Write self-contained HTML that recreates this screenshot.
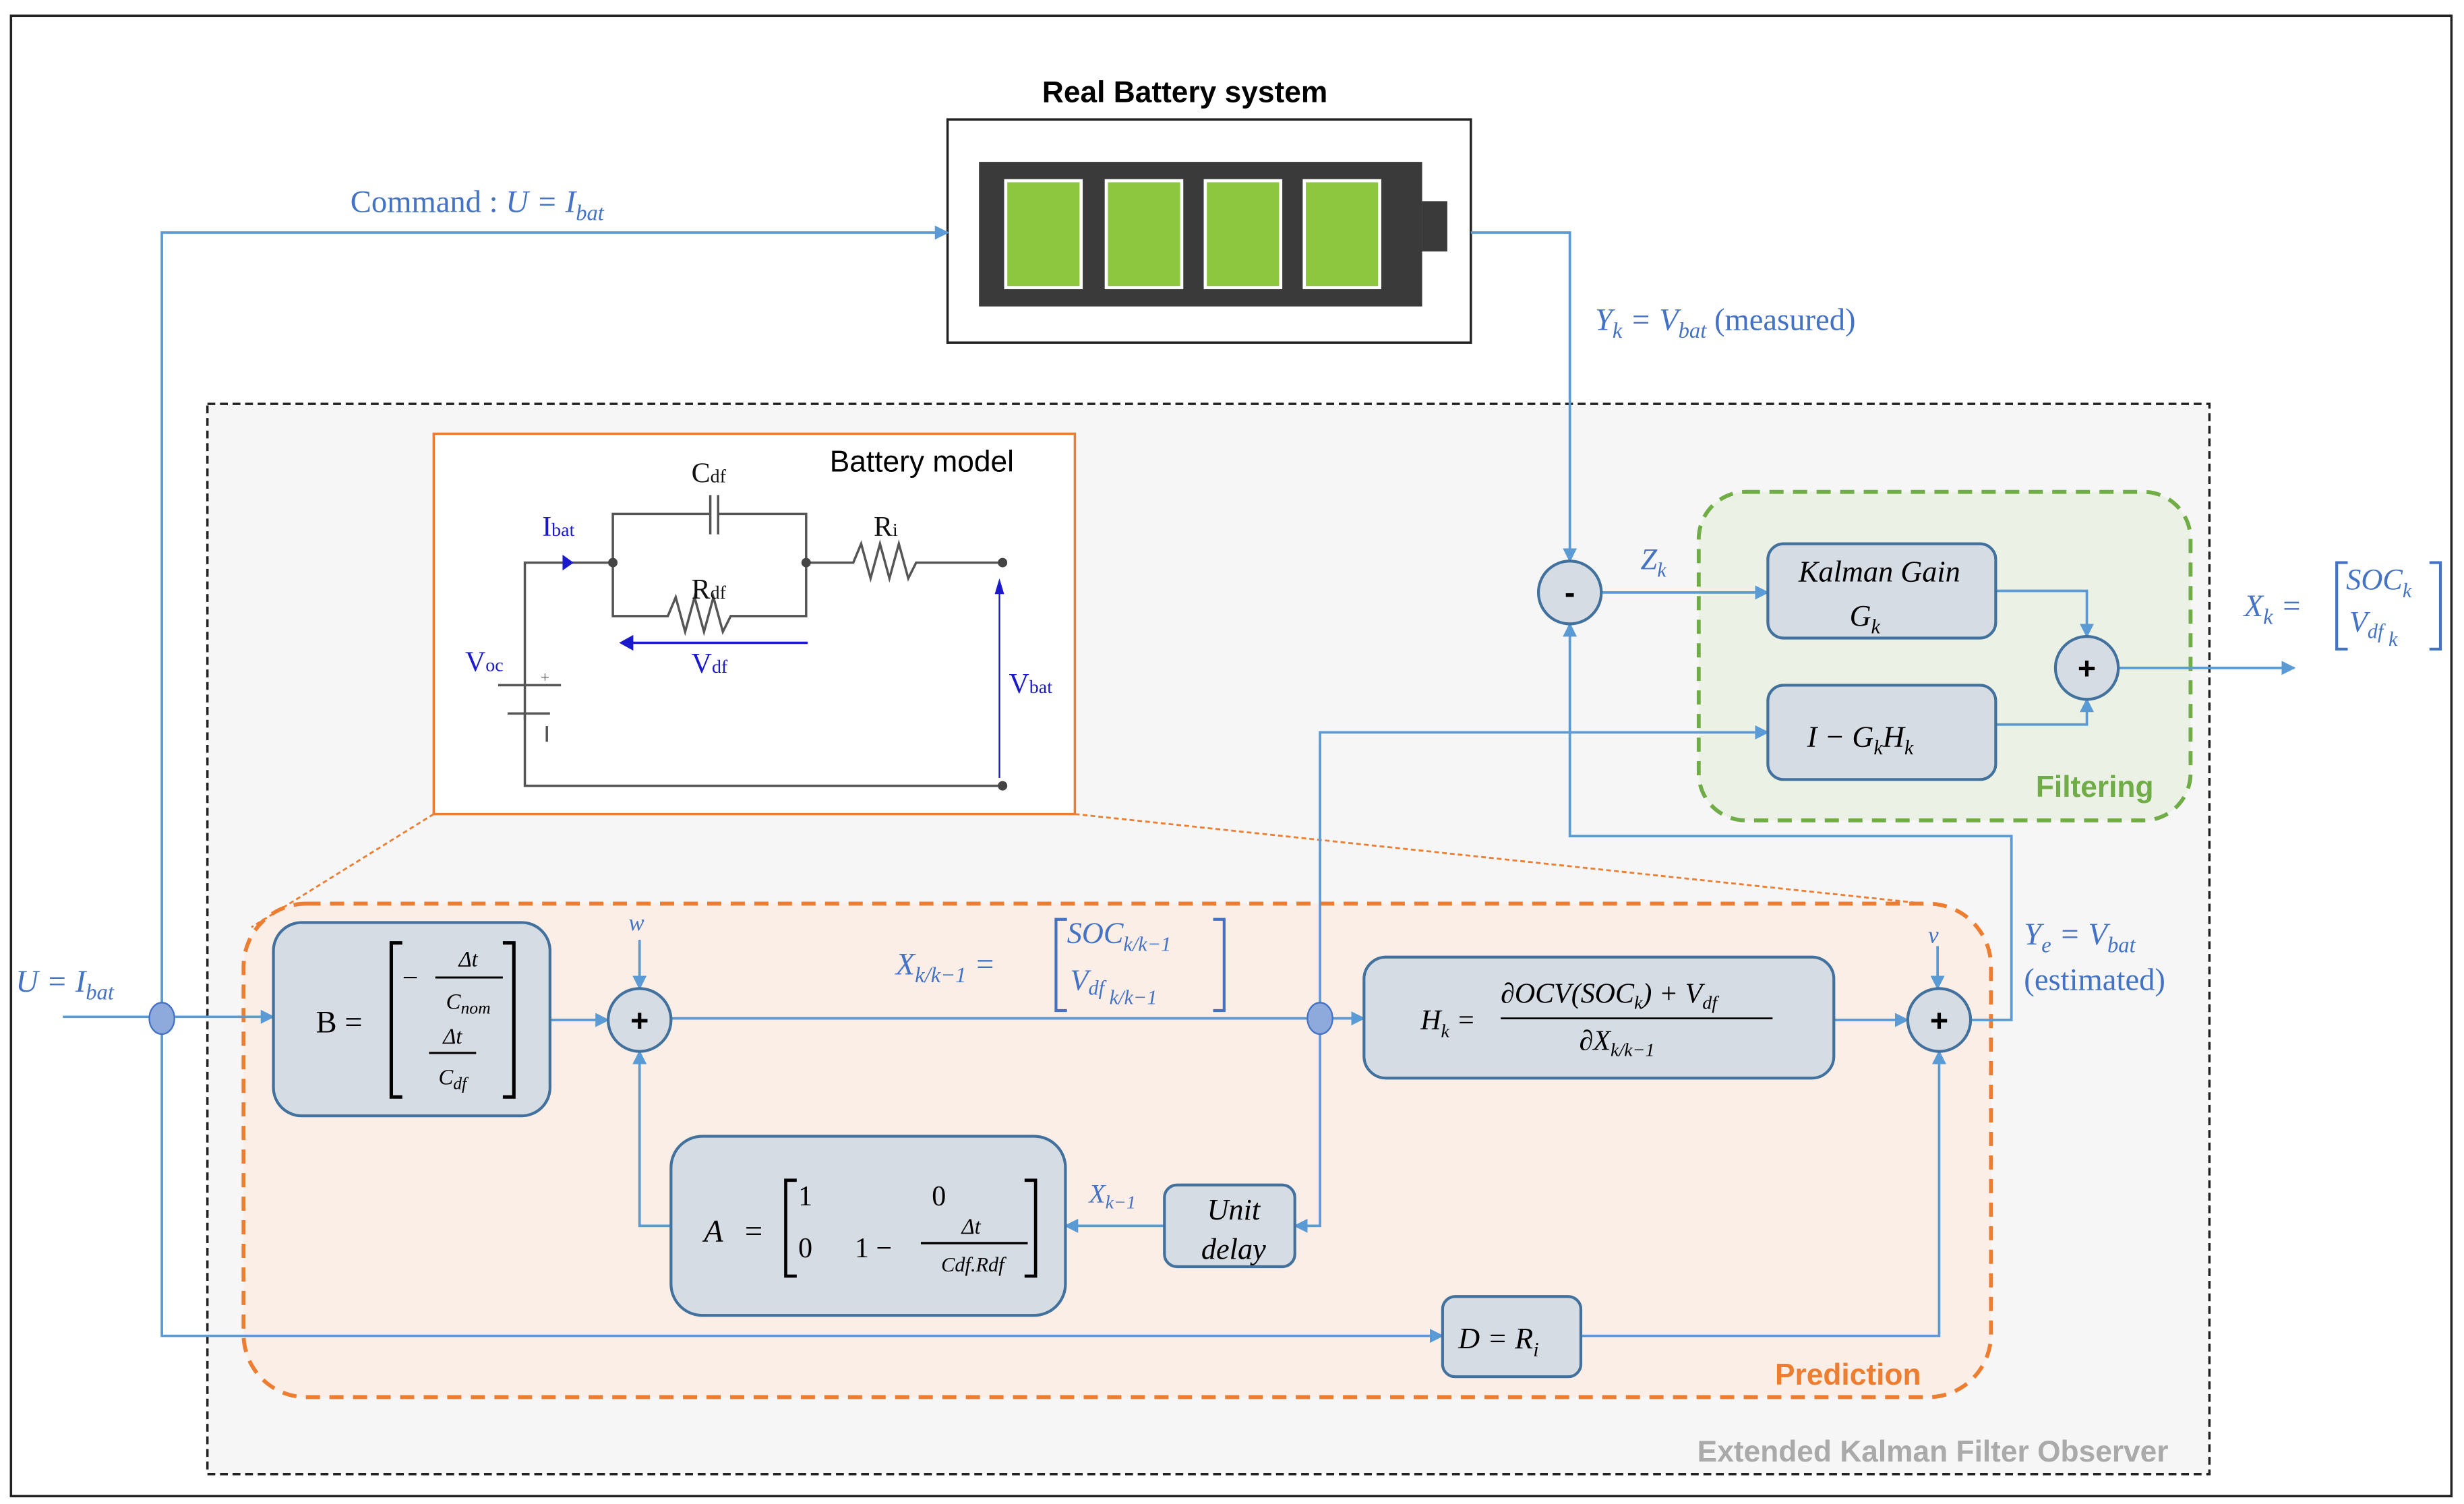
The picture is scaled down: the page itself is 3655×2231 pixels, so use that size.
<!DOCTYPE html>
<html><head><meta charset="utf-8"><style>
html,body{margin:0;padding:0;background:#fff;}
svg{display:block;}
.m{font-family:"Liberation Serif",serif;font-style:italic;}
.s{font-family:"Liberation Sans",sans-serif;}
</style></head><body>
<svg width="3655" height="2231" viewBox="0 0 1568 957" preserveAspectRatio="none" xmlns="http://www.w3.org/2000/svg">
<defs>
<marker id="a" viewBox="0 0 10 10" refX="9" refY="5" markerWidth="9" markerHeight="9" markerUnits="userSpaceOnUse" orient="auto"><path d="M0,0L10,5L0,10z" fill="#5b9bd5"/></marker>
</defs>
<rect x="0" y="0" width="1568" height="957" fill="#fff"/>
<rect x="7" y="10" width="1553" height="942" fill="#fff" stroke="#222" stroke-width="1.5"/>
<!-- EKF -->
<rect x="132" y="257" width="1274" height="681" fill="#f6f6f6" stroke="#222" stroke-width="1.5" stroke-dasharray="5,3"/>
<text x="1230" y="930" class="s" font-size="19" font-weight="bold" fill="#aaa" text-anchor="middle">Extended Kalman Filter Observer</text>
<!-- Prediction -->
<rect x="155" y="575" width="1112" height="314" rx="40" fill="#fbeee6" stroke="#ed7d31" stroke-width="2.5" stroke-dasharray="9,6"/>
<text x="1176" y="881" class="s" font-size="19" font-weight="bold" fill="#ed7d31" text-anchor="middle">Prediction</text>
<!-- Filtering -->
<rect x="1081" y="313" width="313" height="209" rx="30" fill="#ebf1e4" stroke="#70ad47" stroke-width="2.5" stroke-dasharray="9,6"/>
<text x="1333" y="507" class="s" font-size="19" font-weight="bold" fill="#70ad47" text-anchor="middle">Filtering</text>
<!-- orange dotted -->
<line x1="276" y1="518" x2="160" y2="590" stroke="#ed7d31" stroke-width="1.2" stroke-dasharray="3,2"/>
<line x1="684" y1="518" x2="1225" y2="575" stroke="#ed7d31" stroke-width="1.2" stroke-dasharray="3,2"/>
<!-- Battery model -->
<rect x="276" y="276" width="408" height="242" fill="#fff" stroke="#ed7d31" stroke-width="1.5"/>
<text x="528" y="300" class="s" font-size="19" fill="#000">Battery model</text>
<g stroke="#555" stroke-width="1.5" fill="none">
<polyline points="334,458 334,358 390,358"/>
<polyline points="390,358 390,327 452,327"/><polyline points="457,327 513,327 513,358"/>
<line x1="452" y1="315" x2="452" y2="340"/><line x1="457" y1="315" x2="457" y2="340"/>
<polyline points="390,358 390,392 425,392 430,380 436,402 442,380 448,402 454,380 460,402 465,392 513,392 513,358"/>
<polyline points="513,358 543,358 548,346 554,368 560,346 566,368 572,346 578,368 583,358 638,358"/>
<line x1="317" y1="436" x2="357" y2="436"/><line x1="323" y1="454" x2="350" y2="454"/>
<polyline points="334,454 334,500 638,500"/>
<line x1="348" y1="462" x2="348" y2="472"/>
</g>
<text x="344" y="434" font-size="10" fill="#555">+</text>
<circle cx="390" cy="358" r="3" fill="#444"/><circle cx="513" cy="358" r="3" fill="#444"/><circle cx="638" cy="358" r="3" fill="#444"/><circle cx="638" cy="500" r="3" fill="#444"/>
<path d="M358,353 L365,358 L358,363z" fill="#1a1acc"/>
<line x1="400" y1="409" x2="514" y2="409" stroke="#1a1acc" stroke-width="1.5"/><path d="M394,409 L403,404 L403,414z" fill="#1a1acc"/>
<line x1="636" y1="372" x2="636" y2="495" stroke="#1a1acc" stroke-width="1"/><path d="M636,368 L633,378 L639,378z" fill="#1a1acc"/>
<g font-family="Liberation Serif,serif" font-size="18">
<text x="440" y="307" fill="#111">C<tspan font-size="12">df</tspan></text>
<text x="440" y="381" fill="#111">R<tspan font-size="12">df</tspan></text>
<text x="556" y="341" fill="#111">R<tspan font-size="12">i</tspan></text>
<text x="345" y="341" fill="#1a1acc">I<tspan font-size="12">bat</tspan></text>
<text x="440" y="428" fill="#1a1acc">V<tspan font-size="12">df</tspan></text>
<text x="296" y="427" fill="#1a1acc">V<tspan font-size="12">oc</tspan></text>
<text x="642" y="441" fill="#1a1acc">V<tspan font-size="12">bat</tspan></text>
</g>
<!-- Real battery -->
<text x="754" y="65" class="s" font-size="19" font-weight="bold" text-anchor="middle">Real Battery system</text>
<rect x="603" y="76" width="333" height="142" fill="#fff" stroke="#222" stroke-width="1.5"/>
<rect x="623" y="103" width="282" height="92" fill="#3a3a3a"/>
<rect x="905" y="128" width="16" height="32" fill="#3a3a3a"/>
<g fill="#8dc63f" stroke="#fff" stroke-width="2">
<rect x="640" y="115" width="48" height="68"/><rect x="704" y="115" width="48" height="68"/><rect x="767" y="115" width="48" height="68"/><rect x="830" y="115" width="48" height="68"/>
</g>
<!-- connectors -->
<g stroke="#5b9bd5" stroke-width="1.6" fill="none">
<polyline points="103,648 103,148 603,148" marker-end="url(#a)"/>
<polyline points="936,148 999,148 999,357" marker-end="url(#a)"/>
<line x1="1019" y1="377" x2="1125" y2="377" marker-end="url(#a)"/>
<polyline points="1270,376 1328,376 1328,405" marker-end="url(#a)"/>
<polyline points="1270,461 1328,461 1328,445" marker-end="url(#a)"/>
<line x1="1348" y1="425" x2="1460" y2="425" marker-end="url(#a)"/>
<polyline points="840,648 840,466 1125,466" marker-end="url(#a)"/>
<polyline points="1254,649 1280,649 1280,532 999,532 999,397" marker-end="url(#a)"/>
<line x1="40" y1="647" x2="174" y2="647" marker-end="url(#a)"/>
<line x1="350" y1="649" x2="387" y2="649" marker-end="url(#a)"/>
<line x1="427" y1="648" x2="868" y2="648" marker-end="url(#a)"/>
<line x1="1167" y1="649" x2="1214" y2="649" marker-end="url(#a)"/>
<line x1="407" y1="598" x2="407" y2="629" marker-end="url(#a)"/>
<line x1="1233" y1="602" x2="1233" y2="629" marker-end="url(#a)"/>
<polyline points="427,780 407,780 407,669" marker-end="url(#a)"/>
<polyline points="840,648 840,780 824,780" marker-end="url(#a)"/>
<line x1="741" y1="780" x2="678" y2="780" marker-end="url(#a)"/>
<polyline points="103,648 103,850 918,850" marker-end="url(#a)"/>
<polyline points="1006,850 1234,850 1234,669" marker-end="url(#a)"/>
</g>
<ellipse cx="103" cy="648" rx="8" ry="10" fill="#8ea9db" stroke="#4472c4"/>
<ellipse cx="840" cy="648" rx="8" ry="10" fill="#8ea9db" stroke="#4472c4"/>
<!-- boxes -->
<g fill="#d6dce4" stroke="#41719c" stroke-width="1.8">
<rect x="1125" y="346" width="145" height="60" rx="10"/>
<rect x="1125" y="436" width="145" height="60" rx="10"/>
<rect x="174" y="587" width="176" height="123" rx="18"/>
<rect x="868" y="609" width="299" height="77" rx="14"/>
<rect x="427" y="723" width="251" height="114" rx="20"/>
<rect x="741" y="754" width="83" height="52" rx="8"/>
<rect x="918" y="825" width="88" height="51" rx="8"/>
<circle cx="999" cy="377" r="20"/><circle cx="1328" cy="425" r="20"/>
<circle cx="407" cy="649" r="20"/><circle cx="1234" cy="649" r="20"/>
</g>
<g font-family="Liberation Sans,sans-serif" font-weight="bold" font-size="20" text-anchor="middle" fill="#000">
<text x="999" y="384">-</text><text x="1328" y="432">+</text><text x="407" y="656">+</text><text x="1234" y="656">+</text>
</g>
<!-- box text -->
<g class="m" fill="#000">
<text x="1196" y="370" font-size="19" text-anchor="middle">Kalman Gain</text>
<text x="1177" y="398" font-size="19">G<tspan font-size="13" dy="5">k</tspan></text>
<text x="1150" y="475" font-size="19">I − G<tspan font-size="13" dy="5">k</tspan><tspan dy="-5">H</tspan><tspan font-size="13" dy="5">k</tspan></text>
<text x="785" y="776" font-size="19" text-anchor="middle">Unit</text>
<text x="785" y="801" font-size="19" text-anchor="middle">delay</text>
<text x="928" y="858" font-size="19">D = R<tspan font-size="13" dy="5">i</tspan></text>
<text x="904" y="655" font-size="18">H<tspan font-size="12" dy="5">k</tspan><tspan dy="-5"> =</tspan></text>
<text x="955" y="638" font-size="18">∂OCV(SOC<tspan font-size="12" dy="4">k</tspan><tspan dy="-4">) + V</tspan><tspan font-size="12" dy="4">df</tspan></text>
<line x1="955" y1="648" x2="1128" y2="648" stroke="#000" stroke-width="1.2"/>
<text x="1005" y="668" font-size="18">∂X<tspan font-size="12" dy="4">k/k−1</tspan></text>
<text x="448" y="790" font-size="20">A</text>
<text x="474" y="790" font-size="20" font-style="normal">=</text>
<path d="M507,751 L500,751 L500,812 L507,812 M652,751 L659,751 L659,812 L652,812" stroke="#000" stroke-width="2" fill="none"/>
<text x="508" y="767" font-size="18" font-style="normal">1</text><text x="593" y="767" font-size="18" font-style="normal">0</text>
<text x="508" y="800" font-size="18" font-style="normal">0</text><text x="544" y="800" font-size="18" font-style="normal">1 −</text>
<text x="618" y="785" font-size="14" text-anchor="middle">Δt</text>
<line x1="586" y1="791" x2="654" y2="791" stroke="#000" stroke-width="1.5"/>
<text x="619" y="809" font-size="13" text-anchor="middle">Cdf.Rdf</text>
<text x="201" y="657" font-size="20" font-style="normal">B =</text>
<path d="M256,600 L249,600 L249,698 L256,698 M320,600 L327,600 L327,698 L320,698" stroke="#000" stroke-width="2.2" fill="none"/>
<text x="256" y="628" font-size="18" font-style="normal">−</text>
<text x="298" y="615" font-size="14" text-anchor="middle">Δt</text>
<line x1="277" y1="622" x2="320" y2="622" stroke="#000" stroke-width="1.3"/>
<text x="298" y="642" font-size="14" text-anchor="middle">C<tspan font-size="11" dy="3">nom</tspan></text>
<text x="288" y="664" font-size="14" text-anchor="middle">Δt</text>
<line x1="273" y1="670" x2="303" y2="670" stroke="#000" stroke-width="1.3"/>
<text x="288" y="690" font-size="14" text-anchor="middle">C<tspan font-size="11" dy="3">df</tspan></text>
</g>
<!-- blue labels -->
<g class="m" fill="#4472c4">
<text x="223" y="135" font-size="20"><tspan font-style="normal">Command :</tspan> U = I<tspan font-size="14" dy="5">bat</tspan></text>
<text x="1015" y="210" font-size="20">Y<tspan font-size="14" dy="5">k</tspan><tspan dy="-5"> = V</tspan><tspan font-size="14" dy="5">bat</tspan><tspan dy="-5" font-style="normal"> (measured)</tspan></text>
<text x="1044" y="362" font-size="19">Z<tspan font-size="13" dy="5">k</tspan></text>
<text x="1428" y="392" font-size="20">X<tspan font-size="14" dy="5">k</tspan><tspan dy="-5"> =</tspan></text>
<path d="M1494,358 L1487,358 L1487,413 L1494,413 M1546,358 L1553,358 L1553,413 L1546,413" stroke="#4472c4" stroke-width="1.8" fill="none"/>
<text x="1493" y="375" font-size="19">SOC<tspan font-size="13" dy="5">k</tspan></text>
<text x="1495" y="402" font-size="19">V<tspan font-size="13" dy="4">df</tspan><tspan font-size="13" dy="5"> k</tspan></text>
<text x="10" y="631" font-size="20">U = I<tspan font-size="14" dy="5">bat</tspan></text>
<text x="400" y="592" font-size="15">w</text>
<text x="1227" y="600" font-size="15">v</text>
<text x="1288" y="601" font-size="20">Y<tspan font-size="14" dy="5">e</tspan><tspan dy="-5"> = V</tspan><tspan font-size="14" dy="5">bat</tspan></text>
<text x="1288" y="630" font-size="20" font-style="normal">(estimated)</text>
<text x="570" y="620" font-size="20">X<tspan font-size="14" dy="5">k/k−1</tspan><tspan dy="-5"> =</tspan></text>
<path d="M679,585 L672,585 L672,643 L679,643 M772,585 L779,585 L779,643 L772,643" stroke="#4472c4" stroke-width="1.8" fill="none"/>
<text x="679" y="600" font-size="19">SOC<tspan font-size="13" dy="5">k/k−1</tspan></text>
<text x="681" y="630" font-size="19">V<tspan font-size="13" dy="3">df</tspan><tspan font-size="13" dy="6"> k/k−1</tspan></text>
<text x="693" y="765" font-size="17">X<tspan font-size="12" dy="4">k−1</tspan></text>
</g>
</svg>
</body></html>
